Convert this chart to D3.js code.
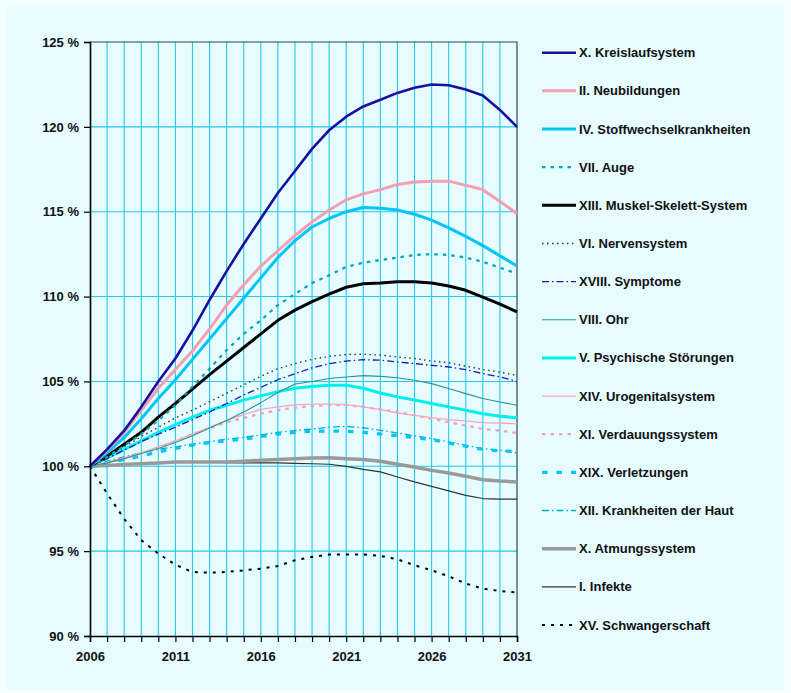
<!DOCTYPE html>
<html>
<head>
<meta charset="utf-8">
<script src="https://cdn.jsdelivr.net/npm/d3@7"></script>
<style>
  html, body { margin: 0; padding: 0; background: #f2feff; }
  text { font-family: "Liberation Sans", Arial, sans-serif; font-weight: bold; fill: #111; }
</style>
</head>
<body>
<div id="chart"></div>
<script>
// years on the x axis
const years = d3.range(2006, 2032);
const yTicks = [90, 95, 100, 105, 110, 115, 120, 125];
const xTicks = [2006, 2011, 2016, 2021, 2026, 2031];

// series values, % of 2006
const kreislauf = [100, 101.0, 102.1, 103.5, 105.0, 106.35, 108.0, 109.8, 111.5, 113.1, 114.6, 116.1, 117.4, 118.7, 119.8, 120.6, 121.2, 121.6, 122.0, 122.3, 122.5, 122.45, 122.2, 121.85, 121.0, 120.0];
const neubildungen = [100, 100.95, 102.0, 103.3, 104.6, 105.7, 106.8, 108.1, 109.5, 110.7, 111.8, 112.7, 113.6, 114.4, 115.1, 115.7, 116.05, 116.3, 116.6, 116.75, 116.8, 116.8, 116.55, 116.3, 115.6, 114.9];
const stoffwechsel = [100, 100.8, 101.7, 102.8, 104.0, 105.1, 106.3, 107.5, 108.7, 109.9, 111.1, 112.3, 113.3, 114.1, 114.6, 115.0, 115.25, 115.2, 115.1, 114.85, 114.5, 114.05, 113.55, 113.0, 112.4, 111.8];
const auge = [100, 100.55, 101.2, 101.9, 102.7, 103.6, 104.7, 105.75, 106.85, 107.8, 108.6, 109.5, 110.15, 110.8, 111.25, 111.75, 112.0, 112.15, 112.3, 112.45, 112.5, 112.45, 112.3, 112.05, 111.7, 111.35];
const muskel = [100, 100.6, 101.3, 102.0, 102.9, 103.7, 104.55, 105.4, 106.2, 107.0, 107.8, 108.6, 109.2, 109.7, 110.15, 110.55, 110.75, 110.8, 110.88, 110.88, 110.8, 110.62, 110.37, 109.97, 109.55, 109.1];
const nerven = [100, 100.55, 101.15, 101.75, 102.3, 102.85, 103.3, 103.8, 104.3, 104.8, 105.3, 105.75, 106.05, 106.3, 106.48, 106.58, 106.6, 106.55, 106.44, 106.35, 106.2, 106.1, 105.9, 105.7, 105.55, 105.35];
const symptome = [100, 100.45, 100.95, 101.45, 101.9, 102.3, 102.75, 103.2, 103.7, 104.2, 104.65, 105.1, 105.45, 105.8, 106.05, 106.2, 106.28, 106.25, 106.15, 106.05, 105.95, 105.85, 105.7, 105.46, 105.27, 105.0];
const ohr = [100, 100.2, 100.45, 100.75, 101.05, 101.4, 101.8, 102.25, 102.7, 103.2, 103.75, 104.35, 104.85, 105.0, 105.17, 105.26, 105.34, 105.3, 105.22, 105.07, 104.87, 104.58, 104.28, 103.99, 103.79, 103.6];
const psychisch = [100, 100.5, 101.0, 101.5, 102.0, 102.45, 102.9, 103.3, 103.6, 103.9, 104.15, 104.4, 104.6, 104.7, 104.77, 104.77, 104.6, 104.32, 104.09, 103.9, 103.7, 103.5, 103.3, 103.1, 102.95, 102.86];
const urogenital = [100, 100.25, 100.5, 100.8, 101.15, 101.5, 101.9, 102.3, 102.7, 103.05, 103.35, 103.5, 103.62, 103.66, 103.66, 103.63, 103.5, 103.34, 103.14, 103.0, 102.87, 102.75, 102.67, 102.57, 102.55, 102.5];
const verdauung = [100, 100.2, 100.45, 100.75, 101.1, 101.5, 101.9, 102.25, 102.6, 102.85, 103.1, 103.3, 103.45, 103.55, 103.6, 103.6, 103.5, 103.35, 103.2, 103.0, 102.8, 102.6, 102.4, 102.2, 102.1, 101.96];
const verletzungen = [100, 100.2, 100.4, 100.6, 100.85, 101.05, 101.25, 101.4, 101.5, 101.6, 101.75, 101.9, 102.0, 102.06, 102.08, 102.06, 102.0, 101.9, 101.8, 101.7, 101.57, 101.37, 101.18, 101.0, 100.9, 100.88];
const haut = [100, 100.3, 100.55, 100.8, 101.0, 101.15, 101.3, 101.45, 101.6, 101.7, 101.85, 102.0, 102.1, 102.2, 102.3, 102.35, 102.27, 102.12, 101.96, 101.8, 101.63, 101.43, 101.24, 101.04, 100.94, 100.79];
const atmung = [100, 100.05, 100.1, 100.15, 100.2, 100.25, 100.25, 100.25, 100.25, 100.3, 100.35, 100.4, 100.45, 100.49, 100.5, 100.45, 100.4, 100.3, 100.12, 99.96, 99.76, 99.6, 99.41, 99.21, 99.13, 99.08];
const infekte = [100, 100.05, 100.1, 100.15, 100.2, 100.25, 100.25, 100.25, 100.22, 100.2, 100.2, 100.2, 100.17, 100.15, 100.12, 100.0, 99.82, 99.67, 99.37, 99.08, 98.82, 98.55, 98.29, 98.1, 98.07, 98.07];
const schwanger = [100, 98.4, 96.9, 95.65, 94.85, 94.2, 93.77, 93.73, 93.77, 93.87, 93.97, 94.12, 94.46, 94.66, 94.8, 94.8, 94.8, 94.72, 94.52, 94.17, 93.87, 93.52, 93.09, 92.79, 92.65, 92.56];

const names = ["X. Kreislaufsystem", "II. Neubildungen", "IV. Stoffwechselkrankheiten", "VII. Auge",
  "XIII. Muskel-Skelett-System", "VI. Nervensystem", "XVIII. Symptome", "VIII. Ohr",
  "V. Psychische Störungen", "XIV. Urogenitalsystem", "XI. Verdauungssystem", "XIX. Verletzungen",
  "XII. Krankheiten der Haut", "X. Atmungssystem", "I. Infekte", "XV. Schwangerschaft"];
const values = [kreislauf, neubildungen, stoffwechsel, auge, muskel, nerven, symptome, ohr,
  psychisch, urogenital, verdauung, verletzungen, haut, atmung, infekte, schwanger];

// line styles, same order as names
const styles = [
  {color: "#1a0f9e", width: 2.6, dash: null},
  {color: "#f59fb3", width: 3, dash: null},
  {color: "#00c6f5", width: 3, dash: null},
  {color: "#00a6b4", width: 2.2, dash: "3.5,5"},
  {color: "#000000", width: 3, dash: null},
  {color: "#333333", width: 1.4, dash: "1.5,3.5"},
  {color: "#1a1ab8", width: 1.3, dash: "7,3,1.5,3"},
  {color: "#2a9494", width: 1.1, dash: null},
  {color: "#00f0f0", width: 3, dash: null},
  {color: "#f7a7ba", width: 1.3, dash: null},
  {color: "#f59fb3", width: 2.2, dash: "3.5,5"},
  {color: "#00c6f5", width: 3.2, dash: "5.5,9"},
  {color: "#00aacc", width: 1.3, dash: "7,3,1.5,3"},
  {color: "#9a9a9a", width: 3.5, dash: null},
  {color: "#333333", width: 1.2, dash: null},
  {color: "#000000", width: 2, dash: "3,6"}
];
const series = names.map((n, i) => ({name: n, values: values[i], style: styles[i]}));

const W = 791, H = 693;
const margin = {top: 42, left: 90, right: 274, bottom: 57};
const pw = W - margin.left - margin.right,
      ph = H - margin.top - margin.bottom;

const svg = d3.select("#chart").append("svg")
  .attr("width", W)
  .attr("height", H);

// chart background
svg.append("rect")
  .attr("x", 7).attr("y", 5)
  .attr("width", W - 14).attr("height", H - 8)
  .attr("fill", "#e6fcff");

const g = svg.append("g")
  .attr("transform", `translate(${margin.left}, ${margin.top})`);

const x = d3.scaleLinear().domain([2006, 2031]).range([0, pw]);
const y = d3.scaleLinear().domain([90, 125]).range([ph, 0]);

// grid
g.append("g").selectAll("line")
  .data(years.slice(1, -1))
  .enter().append("line")
    .attr("x1", d => x(d)).attr("x2", d => x(d))
    .attr("y1", 0).attr("y2", ph)
    .attr("stroke", "#22c8ee").attr("stroke-width", 1.1);
g.append("g").selectAll("line")
  .data(yTicks.slice(1, -1))
  .enter().append("line")
    .attr("x1", 0).attr("x2", pw)
    .attr("y1", d => y(d)).attr("y2", d => y(d))
    .attr("stroke", "#22c8ee").attr("stroke-width", 1.1);

// frame top/right
g.append("path")
  .attr("d", `M0,0H${pw}V${ph}`)
  .attr("fill", "none").attr("stroke", "#2a4a50").attr("stroke-width", 1.2);

// lines
const line = d3.line()
  .x((d, i) => x(years[i]))
  .y(d => y(d));

g.append("g").selectAll("path")
  .data(series.slice().reverse())
  .enter().append("path")
    .attr("d", d => line(d.values))
    .attr("fill", "none")
    .attr("stroke", d => d.style.color)
    .attr("stroke-width", d => d.style.width)
    .attr("stroke-dasharray", d => d.style.dash)
    .attr("stroke-linejoin", "round");

// axes
const yAxis = g.append("g")
  .call(d3.axisLeft(y).tickValues(yTicks).tickSize(6).tickPadding(5).tickFormat(d => d + " %"));
const xAxis = g.append("g")
  .attr("transform", `translate(0, ${ph})`)
  .call(d3.axisBottom(x).tickValues(years).tickSize(6).tickPadding(10)
    .tickFormat(d => xTicks.includes(d) ? d : ""));
[yAxis, xAxis].forEach(a => {
  a.select(".domain").attr("stroke", "#000").attr("stroke-width", 1.6);
  a.selectAll(".tick line").attr("stroke", "#000").attr("stroke-width", 1.2);
  a.selectAll("text")
    .style("font-family", '"Liberation Sans", Arial, sans-serif')
    .style("font-weight", "bold")
    .style("font-size", "13px")
    .attr("fill", "#111");
});

// legend
const legend = svg.append("g")
  .attr("transform", "translate(542, 52.7)");
const row = legend.selectAll("g")
  .data(series)
  .enter().append("g")
    .attr("transform", (d, i) => `translate(0, ${i * 38.15})`);
row.append("line")
  .attr("x1", 0).attr("x2", 34)
  .attr("stroke", d => d.style.color)
  .attr("stroke-width", d => d.style.width)
  .attr("stroke-dasharray", d => d.style.dash);
row.append("text")
  .attr("x", 37).attr("dy", "0.35em")
  .style("font-size", "13px")
  .text(d => d.name);
</script>
</body>
</html>
